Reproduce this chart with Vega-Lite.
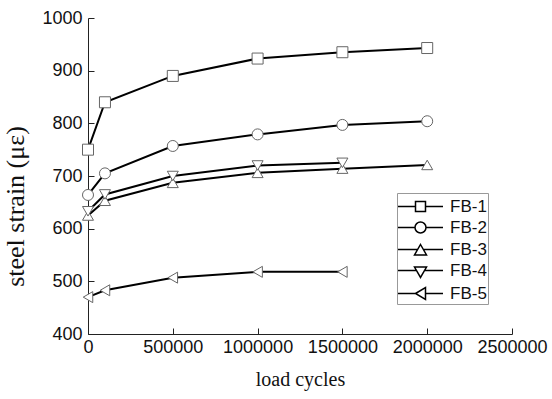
{
  "$schema": "https://vega.github.io/schema/vega-lite/v6.json",
  "width": 424,
  "height": 316,
  "autosize": "none",
  "padding": {"left": 88, "top": 18, "right": 40, "bottom": 65},
  "background": "white",
  "config": {"view": {"stroke": null}},
  "data": {"values": [
    {"series": "FB-1", "cycles": 0, "strain": 750},
    {"series": "FB-1", "cycles": 100000, "strain": 840},
    {"series": "FB-1", "cycles": 500000, "strain": 890},
    {"series": "FB-1", "cycles": 1000000, "strain": 923},
    {"series": "FB-1", "cycles": 1500000, "strain": 935},
    {"series": "FB-1", "cycles": 2000000, "strain": 943},
    {"series": "FB-2", "cycles": 0, "strain": 664},
    {"series": "FB-2", "cycles": 100000, "strain": 705},
    {"series": "FB-2", "cycles": 500000, "strain": 757},
    {"series": "FB-2", "cycles": 1000000, "strain": 779},
    {"series": "FB-2", "cycles": 1500000, "strain": 797},
    {"series": "FB-2", "cycles": 2000000, "strain": 804},
    {"series": "FB-3", "cycles": 0, "strain": 625},
    {"series": "FB-3", "cycles": 100000, "strain": 653},
    {"series": "FB-3", "cycles": 500000, "strain": 687},
    {"series": "FB-3", "cycles": 1000000, "strain": 706},
    {"series": "FB-3", "cycles": 1500000, "strain": 714},
    {"series": "FB-3", "cycles": 2000000, "strain": 721},
    {"series": "FB-4", "cycles": 0, "strain": 633},
    {"series": "FB-4", "cycles": 100000, "strain": 665},
    {"series": "FB-4", "cycles": 500000, "strain": 700},
    {"series": "FB-4", "cycles": 1000000, "strain": 720},
    {"series": "FB-4", "cycles": 1500000, "strain": 725},
    {"series": "FB-5", "cycles": 0, "strain": 470},
    {"series": "FB-5", "cycles": 100000, "strain": 483},
    {"series": "FB-5", "cycles": 500000, "strain": 507},
    {"series": "FB-5", "cycles": 1000000, "strain": 518},
    {"series": "FB-5", "cycles": 1500000, "strain": 518}
  ]},
  "encoding": {
    "x": {
      "field": "cycles", "type": "quantitative",
      "scale": {"domain": [0, 2500000], "nice": false, "zero": false},
      "axis": {
        "title": "load cycles", "values": [0, 500000, 1000000, 1500000, 2000000, 2500000],
        "format": "d", "grid": false,
        "domainColor": "#222", "tickColor": "#222", "tickSize": -6, "labelPadding": 10,
        "labelFont": "Liberation Sans", "labelFontSize": 18, "labelColor": "#111",
        "labelFlush": false, "labelOverlap": false,
        "titleFont": "Liberation Serif", "titleFontSize": 20, "titleFontWeight": "normal", "titleColor": "#111",
        "titlePadding": 13
      }
    },
    "y": {
      "field": "strain", "type": "quantitative",
      "scale": {"domain": [400, 1000], "nice": false, "zero": false},
      "axis": {
        "title": "steel strain (με)", "values": [400, 500, 600, 700, 800, 900, 1000],
        "format": "d", "grid": false,
        "domainColor": "#222", "tickColor": "#222", "tickSize": -6, "labelPadding": 12,
        "labelFont": "Liberation Sans", "labelFontSize": 18, "labelColor": "#111",
        "labelFlush": false, "labelOverlap": false,
        "titleFont": "Liberation Serif", "titleFontSize": 26, "titleFontWeight": "normal", "titleColor": "#111",
        "titlePadding": 13, "titleY": 188
      }
    }
  },
  "layer": [
    {
      "mark": {"type": "line", "color": "black", "strokeWidth": 2},
      "encoding": {"detail": {"field": "series"}}
    },
    {
      "mark": {"type": "point", "filled": true, "fill": "white", "stroke": "#666", "strokeWidth": 1, "opacity": 1, "size": 121},
      "encoding": {
        "shape": {
          "field": "series", "type": "nominal",
          "scale": {"domain": ["FB-1", "FB-2", "FB-3", "FB-4", "FB-5"], "range": ["square", "circle", "triangle-up", "triangle-down", "triangle-left"]},
          "legend": null
        }
      }
    },
    {
      "mark": {"type": "point", "filled": false, "stroke": "black", "strokeWidth": 1.5, "opacity": 0, "size": 529},
      "encoding": {
        "shape": {
          "field": "series", "type": "nominal",
          "scale": {"domain": ["FB-1", "FB-2", "FB-3", "FB-4", "FB-5"], "range": [
            "M -1.087 0 H 0.435 M 1.304 0 H 2.826 M 0.435 -0.435 H 1.304 V 0.435 H 0.435 Z",
            "M -1.087 0 H 0.391 M 1.348 0 H 2.826 M 1.348 0 A 0.478 0.478 0 1 1 0.391 0 A 0.478 0.478 0 1 1 1.348 0 Z",
            "M -1.087 0 H 0.622 M 1.118 0 H 2.826 M 0.870 -0.435 L 1.392 0.478 H 0.348 Z",
            "M -1.087 0 H 0.522 M 1.218 0 H 2.826 M 0.348 -0.3 H 1.392 L 0.870 0.6 Z",
            "M -1.087 0 H 0.435 M 1.304 0 H 2.826 M 0.435 0 L 1.304 -0.522 V 0.522 Z"
          ]},
          "legend": {
            "title": null, "orient": "none", "legendX": 309, "legendY": 175,
            "strokeColor": "#999", "fillColor": "white", "padding": 1,
            "symbolSize": 529, "rowPadding": 0, "labelOffset": 27,
            "symbolOpacity": 1, "symbolFillColor": "white", "symbolStrokeColor": "black", "symbolStrokeWidth": 1.5,
            "labelFont": "Liberation Sans", "labelFontSize": 17, "labelColor": "#111"
          }
        }
      }
    }
  ],
  "resolve": {"scale": {"shape": "independent"}, "legend": {"shape": "independent"}}
}
